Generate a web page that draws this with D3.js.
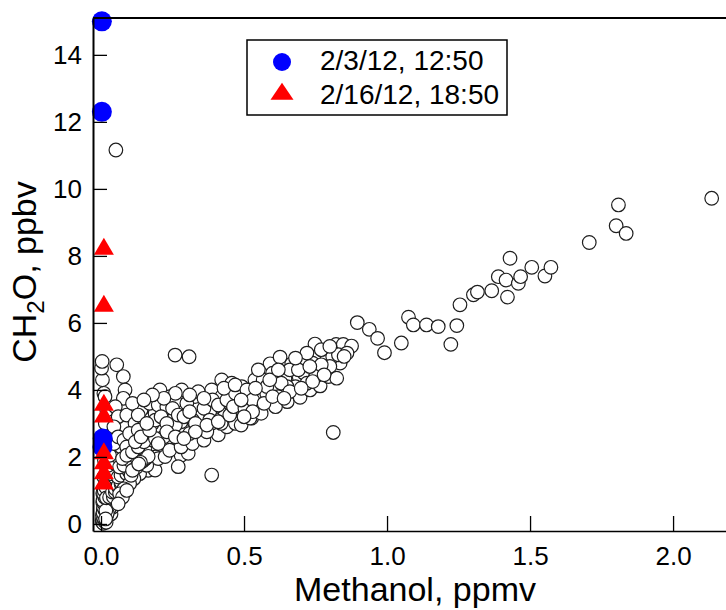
<!DOCTYPE html>
<html>
<head>
<meta charset="utf-8">
<script src="https://cdn.jsdelivr.net/npm/d3@7"></script>
<style>
    body { margin: 0; background: #fff; }
    #main { width: 726px; height: 610px; overflow: hidden; }
    text { font-family: "Liberation Sans", Arial, sans-serif; fill: #000; }
</style>
</head>
<body>
<div id="main"></div>
<script>
// tick labels
let xTicks = [0, 0.5, 1.0, 1.5, 2.0];
let yTicks = [0, 2, 4, 6, 8, 10, 12, 14];
let legendLabels = ["2/3/12, 12:50", "2/16/12, 18:50"];

// all samples (methanol ppmv, CH2O ppbv)
let stackAtZero = [
    [0.005, 0.05], [0.004, 0.1], [0.01, 0.15], [0.014, 0.2], [0.005, 0.25], [0.012, 0.3],
    [0.015, 0.35], [0.025, 0.4], [0.008, 0.45], [0.02, 0.5], [0.012, 0.55], [0.03, 0.6],
    [0.006, 0.65], [0.018, 0.72], [0.028, 0.8], [0.01, 0.85], [0.02, 0.95], [0.035, 1.0],
    [0.008, 1.05], [0.015, 1.2], [0.035, 0.3], [0.04, 0.5], [0.05, 0.7], [0.02, 0.7],
    [0.01, 1.4], [0.02, 1.6], [0.012, 1.9], [0.025, 2.2], [0.01, 2.6], [0.03, 2.8],
    [0.015, 3.0], [0.02, 3.4], [0.01, 3.9], [0.005, 4.3], [0.002, 4.65], [0.004, 4.85],
    [0.055, 4.75], [0.078, 4.4], [0.084, 4.0], [0.078, 3.75], [0.014, 3.8], [0.05, 3.5],
    [0.06, 3.2], [0.045, 2.9], [0.04, 2.5], [0.05, 2.2], [0.035, 1.9], [0.045, 1.6],
    [0.04, 1.3], [0.055, 1.1], [0.015, 0.1], [0.02, 0.25], [0.01, 0.38], [0.025, 0.55],
    [0.018, 0.62], [0.03, 0.7], [0.02, 0.85], [0.012, 0.75], [0.028, 0.45], [0.022, 0.32],
    [0.006, 0.92], [0.03, 1.1], [0.04, 1.2], [0.02, 1.3], [0.05, 1.35], [0.035, 1.5],
    [0.025, 1.75], [0.05, 1.8], [0.06, 2.0], [0.03, 2.05], [0.07, 2.3], [0.045, 2.4],
    [0.06, 2.6], [0.08, 2.5], [0.09, 2.3], [0.008, 0.02], [0.012, 0.08], [0.009, 0.18],
    [0.011, 0.28], [0.007, 0.34], [0.013, 0.42], [0.009, 0.5], [0.011, 0.6], [0.007, 0.7],
    [0.013, 0.8], [0.009, 0.9], [0.011, 1.0], [0.016, 1.1], [0.018, 0.05], [0.017, 0.4],
    [0.016, 0.15], [0.019, 0.78]
];
let darkStreak = [
    [0.03, 0.8], [0.043, 0.81], [0.04, 0.95], [0.05, 0.95], [0.05, 1.05], [0.061, 1.11],
    [0.06, 1.15], [0.07, 1.2], [0.07, 1.25], [0.084, 1.31], [0.08, 1.4], [0.06, 1.4],
    [0.07, 1.45], [0.09, 1.5], [0.1, 1.55], [0.096, 1.61], [0.11, 1.65], [0.065, 1.7],
    [0.08, 1.75], [0.12, 1.75], [0.13, 1.8], [0.142, 1.81], [0.148, 1.85], [0.171, 1.86],
    [0.1, 1.9], [0.14, 1.9], [0.075, 1.95], [0.15, 1.95], [0.12, 2.01], [0.16, 2.0],
    [0.09, 2.05], [0.16, 2.05], [0.17, 2.1], [0.11, 2.15], [0.154, 2.21], [0.13, 2.3],
    [0.2, 2.2], [0.19, 2.0], [0.18, 1.75], [0.165, 1.6], [0.135, 1.5], [0.115, 1.35],
    [0.1, 1.2], [0.08, 1.05], [0.065, 0.9], [0.075, 0.8], [0.09, 1.0], [0.105, 1.45],
    [0.06, 0.6], [0.125, 1.7], [0.189, 1.61], [0.177, 2.51], [0.11, 1.6], [0.2, 1.95],
    [0.16, 1.75], [0.25, 2.4], [0.28, 2.05], [0.3, 2.35], [0.145, 1.87], [0.152, 1.92],
    [0.158, 1.97], [0.165, 2.02], [0.138, 1.84], [0.132, 1.79]
];
let lowBand = [
    [0.09, 3.25], [0.119, 3.0], [0.148, 3.16], [0.189, 3.3], [0.241, 3.3], [0.282, 3.4],
    [0.329, 3.45], [0.37, 3.6], [0.206, 4.0], [0.241, 3.8], [0.282, 4.0], [0.329, 3.8],
    [0.387, 4.0], [0.422, 3.8], [0.422, 4.3], [0.457, 4.2], [0.492, 4.1], [0.538, 4.3],
    [0.212, 2.9], [0.253, 2.81], [0.294, 2.86], [0.34, 2.61], [0.387, 2.9], [0.41, 2.66],
    [0.457, 3.1], [0.492, 3.4], [0.527, 3.16], [0.27, 2.51], [0.224, 2.41], [0.224, 2.01],
    [0.305, 2.11], [0.27, 1.71], [0.259, 5.04], [0.308, 4.99], [0.1, 2.7], [0.13, 2.8],
    [0.16, 2.65], [0.14, 3.4], [0.17, 3.6], [0.11, 3.6], [0.2, 3.55], [0.23, 3.5],
    [0.26, 3.65], [0.3, 3.6], [0.35, 3.2], [0.32, 3.1], [0.28, 3.05], [0.25, 3.1],
    [0.2, 2.75], [0.18, 3.0], [0.15, 2.45], [0.24, 2.2], [0.28, 2.3], [0.32, 2.4],
    [0.36, 2.5], [0.35, 2.9], [0.4, 3.2], [0.43, 3.4], [0.45, 3.6], [0.4, 3.5],
    [0.48, 3.8], [0.44, 2.9], [0.47, 3.0], [0.387, 1.46], [0.22, 2.6], [0.31, 2.7],
    [0.38, 3.35], [0.26, 2.95], [0.19, 2.55], [0.42, 3.0], [0.34, 3.95], [0.37, 2.75],
    [0.12, 2.45], [0.14, 2.6], [0.17, 2.8], [0.19, 3.1], [0.21, 3.2], [0.23, 3.0],
    [0.25, 3.45], [0.27, 3.25], [0.29, 3.2], [0.31, 3.35], [0.33, 3.0], [0.36, 3.45],
    [0.38, 3.1], [0.39, 3.7], [0.41, 3.55], [0.44, 3.7], [0.46, 3.4], [0.47, 3.9],
    [0.5, 3.55], [0.52, 3.9], [0.43, 4.05], [0.36, 3.75], [0.31, 3.85], [0.26, 3.9],
    [0.22, 3.75], [0.18, 3.85], [0.15, 3.7], [0.13, 3.25], [0.16, 3.0], [0.2, 2.4],
    [0.23, 2.75], [0.26, 2.6], [0.29, 2.55], [0.33, 2.75], [0.37, 2.95], [0.41, 3.05],
    [0.45, 3.25], [0.49, 2.95]
];
let midBand = [
    [0.469, 4.15], [0.463, 3.5], [0.503, 3.45], [0.556, 3.55], [0.521, 3.16], [0.544, 3.85],
    [0.579, 3.9], [0.567, 4.3], [0.602, 4.0], [0.643, 4.35], [0.591, 4.78], [0.626, 4.98],
    [0.667, 4.78], [0.693, 4.38], [0.651, 3.65], [0.696, 3.78], [0.731, 4.0], [0.766, 4.12],
    [0.795, 4.4], [0.824, 4.35], [0.74, 4.8], [0.836, 4.8], [0.748, 5.37], [0.781, 5.14],
    [0.822, 5.36], [0.847, 5.36], [0.876, 5.31], [0.6, 4.5], [0.62, 3.8], [0.68, 4.1],
    [0.71, 4.5], [0.72, 4.2], [0.76, 4.6], [0.79, 4.9], [0.81, 5.0], [0.7, 4.9],
    [0.66, 4.6], [0.58, 4.1], [0.55, 4.6], [0.51, 4.0], [0.61, 3.5], [0.56, 3.3],
    [0.75, 4.4], [0.8, 4.7], [0.72, 5.1], [0.65, 4.1], [0.53, 3.7], [0.49, 3.7],
    [0.812, 2.73], [0.57, 3.6], [0.6, 3.8], [0.63, 4.2], [0.66, 3.95], [0.69, 4.6],
    [0.74, 4.25], [0.77, 4.75], [0.78, 4.45], [0.83, 5.05], [0.86, 5.1], [0.54, 4.05],
    [0.59, 4.3], [0.62, 4.6], [0.64, 3.75], [0.7, 4.05], [0.73, 4.7], [0.68, 4.95],
    [0.77, 5.2], [0.8, 5.3], [0.85, 5.0], [0.53, 3.35], [0.5, 3.2]
];
let highTail = [
    [0.052, 11.16], [0.896, 6.01], [0.938, 5.81], [0.967, 5.54], [0.991, 5.11], [1.05, 5.4],
    [1.075, 6.17], [1.092, 5.94], [1.138, 5.94], [1.179, 5.89], [1.244, 5.92], [1.223, 5.36],
    [1.255, 6.54], [1.302, 6.84], [1.316, 6.92], [1.366, 6.96], [1.421, 6.77], [1.389, 7.38],
    [1.416, 7.28], [1.459, 7.18], [1.467, 7.38], [1.506, 7.66], [1.552, 7.4], [1.573, 7.66],
    [1.43, 7.93], [1.707, 8.4], [1.801, 8.9], [1.809, 9.52], [1.836, 8.67], [2.135, 9.72]
];
// highlighted samples
let feb3 = [[0.003, 15.0], [0.003, 12.3], [0.005, 2.3], [0.006, 2.55]];
let feb16 = [[0.01, 8.2], [0.01, 6.5], [0.01, 3.55], [0.01, 3.2], [0.01, 2.1], [0.01, 1.8], [0.01, 1.5], [0.01, 1.2]];

onload = () => {
    const d3 = window.d3;
    let svg = d3.select("#main").append("svg");
    svg.attr("width", 726).attr("height", 610);

    let xScale = d3.scaleLinear().domain([-0.028, 2.234]).range([93, 740]);
    let yScale = d3.scaleLinear().domain([-0.21, 15.1]).range([531, 18]);

    let allPoints = stackAtZero.concat(darkStreak, lowBand, midBand, highTail);

    // open circles
    svg.append("g")
        .selectAll("circle")
        .data(allPoints)
        .enter()
        .append("circle")
        .attr("cx", (d) => xScale(d[0]))
        .attr("cy", (d) => yScale(d[1]))
        .attr("r", 6.8)
        .attr("fill", "#fff")
        .attr("stroke", "#1e1e1e")
        .attr("stroke-width", 1.2);

    let tri = (w, h) => `M0,${-h * 2 / 3}L${w / 2},${h / 3}L${-w / 2},${h / 3}Z`;

    svg.append("g")
        .selectAll("circle")
        .data(feb3)
        .enter()
        .append("circle")
        .attr("cx", (d) => xScale(d[0]))
        .attr("cy", (d) => yScale(d[1]))
        .attr("r", 10)
        .attr("fill", "#0000ff");

    svg.append("g")
        .selectAll("path")
        .data(feb16)
        .enter()
        .append("path")
        .attr("d", tri(20, 17))
        .attr("transform", (d) => `translate(${xScale(d[0])},${yScale(d[1])})`)
        .attr("fill", "#ff0000");

    // axes
    let axisLeft = d3.axisLeft(yScale).tickValues(yTicks).tickSizeInner(-14).tickSizeOuter(0).tickPadding(11);
    let axisBottom = d3.axisBottom(xScale).tickValues(xTicks).tickFormat(d3.format(".1f"))
        .tickSizeInner(-15).tickSizeOuter(0).tickPadding(16);

    let yAxis = svg.append("g").attr("transform", "translate(93,0)").call(axisLeft);
    let xAxis = svg.append("g").attr("transform", "translate(0,531)").call(axisBottom);
    [yAxis, xAxis].forEach((g) => {
        g.selectAll("text").style("font-size", "26px").attr("fill", "#000")
            .style("font-family", "'Liberation Sans', Arial, sans-serif");
        g.selectAll("line").attr("stroke", "#000").attr("stroke-width", 1.3);
    });
    yAxis.select(".domain").attr("stroke", "#000").attr("stroke-width", 2);
    xAxis.select(".domain").attr("stroke", "#000").attr("stroke-width", 1.5);

    // top frame line
    svg.append("line")
        .attr("x1", 93).attr("x2", 740)
        .attr("y1", 18).attr("y2", 18)
        .attr("stroke", "#000").attr("stroke-width", 2);

    // axis titles
    svg.append("text")
        .attr("x", 415).attr("y", 601)
        .attr("text-anchor", "middle")
        .style("font-size", "34px")
        .text("Methanol, ppmv");

    let yTitle = svg.append("text")
        .attr("transform", "translate(36,272) rotate(-90)")
        .attr("text-anchor", "middle")
        .style("font-size", "34px");
    yTitle.append("tspan").text("CH");
    yTitle.append("tspan").attr("dy", 8).style("font-size", "24px").text("2");
    yTitle.append("tspan").attr("dy", -8).text("O, ppbv");

    // legend
    let legend = svg.append("g");
    legend.append("rect")
        .attr("x", 247).attr("y", 40)
        .attr("width", 260).attr("height", 75)
        .attr("fill", "#fff").attr("stroke", "#000").attr("stroke-width", 1.5);
    legend.append("circle").attr("cx", 282).attr("cy", 62).attr("r", 9).attr("fill", "#0000ff");
    legend.append("path").attr("d", tri(23, 17)).attr("transform", "translate(282,94)").attr("fill", "#ff0000");
    legend.selectAll(".lab")
        .data(legendLabels)
        .enter()
        .append("text")
        .classed("lab", true)
        .attr("x", 320)
        .attr("y", (d, i) => 70 + i * 34)
        .style("font-size", "28px")
        .text((d) => d);
};
</script>
</body>
</html>
